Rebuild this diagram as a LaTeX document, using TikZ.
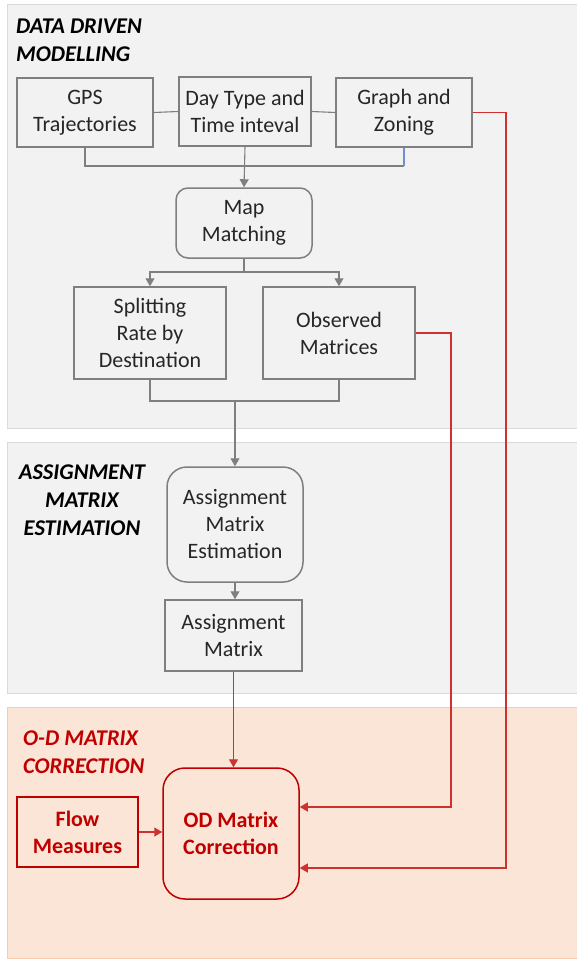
\documentclass[tikz,border=0pt]{standalone}
\usepackage{fontspec}
\setmainfont{Carlito}
\usetikzlibrary{arrows.meta}
\definecolor{panelgray}{HTML}{F2F2F2}
\definecolor{panelborder}{HTML}{DADADA}
\definecolor{boxborder}{HTML}{7F7F7F}
\definecolor{txt}{HTML}{262626}
\definecolor{odred}{HTML}{C00000}
\definecolor{linered}{HTML}{D03030}
\definecolor{peach}{HTML}{FBE5D6}
\definecolor{peachborder}{HTML}{F8CBAD}
\definecolor{busblue}{HTML}{6F8FCF}
\tikzset{
  graybox/.style={draw=boxborder, line width=1.5pt, fill=panelgray, text=txt,
    align=center, inner sep=0pt, font=\fontsize{22}{27}\selectfont},
  redbox/.style={draw=odred, line width=1.5pt, fill=peach, text=odred,
    align=center, inner sep=0pt, font=\fontsize{22}{27}\selectfont\bfseries},
  gline/.style={draw=boxborder, line width=1.1pt},
  garrow/.style={gline, -{Triangle[width=9pt,length=8pt]}},
  rline/.style={draw=linered, line width=1.1pt},
  rarrow/.style={rline, -{Triangle[width=9pt,length=8pt]}},
  paneltitle/.style={inner sep=0pt, font=\fontsize{22.5}{28}\selectfont\bfseries\itshape}
}
\begin{document}
\begin{tikzpicture}[x=1pt,y=-1pt]
\useasboundingbox (0,0) rectangle (576,960);
\fill[white] (0,0) rectangle (576,960);
% panels
\draw[draw=panelborder, line width=1pt, fill=panelgray] (7,5) rectangle (590,428);
\draw[draw=panelborder, line width=1pt, fill=panelgray] (7,442) rectangle (590,693);
\draw[draw=peachborder, line width=1pt, fill=peach] (7,707) rectangle (590,958);
% titles
\node[paneltitle, align=left, anchor=north west, text=black] (t1) at (16,19) {DATA DRIVEN\\ MODELLING};
\node[paneltitle, align=center, anchor=north, text=black] (t2) at (82,465) {ASSIGNMENT\\MATRIX\\ESTIMATION};
\node[paneltitle, align=left, anchor=north west, text=odred] (t3) at (23,731) {O-D MATRIX\\CORRECTION};
% boxes
\node[graybox, minimum width=136pt, minimum height=69pt] (gps) at (85,112.5) {GPS\\Trajectories};
\node[graybox, minimum width=132pt, minimum height=69pt] (day) at (245,111.5) {Day Type and\\Time inteval};
\node[graybox, minimum width=136pt, minimum height=69pt] (graph) at (404,112.5) {Graph and\\Zoning};
\node[graybox, rounded corners=12pt, minimum width=136pt, minimum height=70pt] (map) at (244,223) {Map\\Matching};
\node[graybox, minimum width=152pt, minimum height=92pt] (split) at (150,333) {Splitting\\Rate by\\Destination};
\node[graybox, minimum width=152pt, minimum height=92pt] (obs) at (339,333) {Observed\\Matrices};
\node[graybox, rounded corners=20pt, minimum width=136pt, minimum height=115pt] (ame) at (235,524.5) {Assignment\\Matrix\\Estimation};
\node[graybox, minimum width=137pt, minimum height=71pt] (am) at (233.5,635.5) {Assignment\\Matrix};
\node[redbox, rounded corners=22pt, minimum width=136pt, minimum height=131pt] (od) at (231,833.5) {OD Matrix\\Correction};
\node[redbox, minimum width=121pt, minimum height=70pt] (flow) at (77.5,832) {Flow\\Measures};
% coordinates
\coordinate (b2) at (404,166);
\coordinate (m1) at (244,272);
\coordinate (m2) at (235,401);
\coordinate (r1) at (451,807);
\coordinate (r2) at (506,868);
% gray connectors
\draw[gline] (gps.east) -- (day.west);
\draw[gline] (day.east) -- (graph.west);
\draw[gline] (gps.south) |- (b2);
\draw[draw=busblue, line width=1.1pt] (graph.south) -- (b2);
\draw[garrow] (day.south) -- (map.north);
\draw[gline] (map.south) -- (m1);
\draw[garrow] (m1) -| (split.north);
\draw[garrow] (m1) -| (obs.north);
\draw[gline] (split.south) |- (m2);
\draw[gline] (obs.south) |- (m2);
\draw[garrow] (m2) -- (ame.north);
\draw[garrow] (ame.south) -- (ame.south |- am.north);
% red connectors
\draw[rarrow] (am.south) -- (am.south |- od.north);
\draw[rarrow] (flow.east) -- (flow.east -| od.west);
\draw[rarrow] (obs.east) -| (r1) -- (r1 -| od.east);
\draw[rarrow] (graph.east) -| (r2) -- (r2 -| od.east);
\end{tikzpicture}
\end{document}
